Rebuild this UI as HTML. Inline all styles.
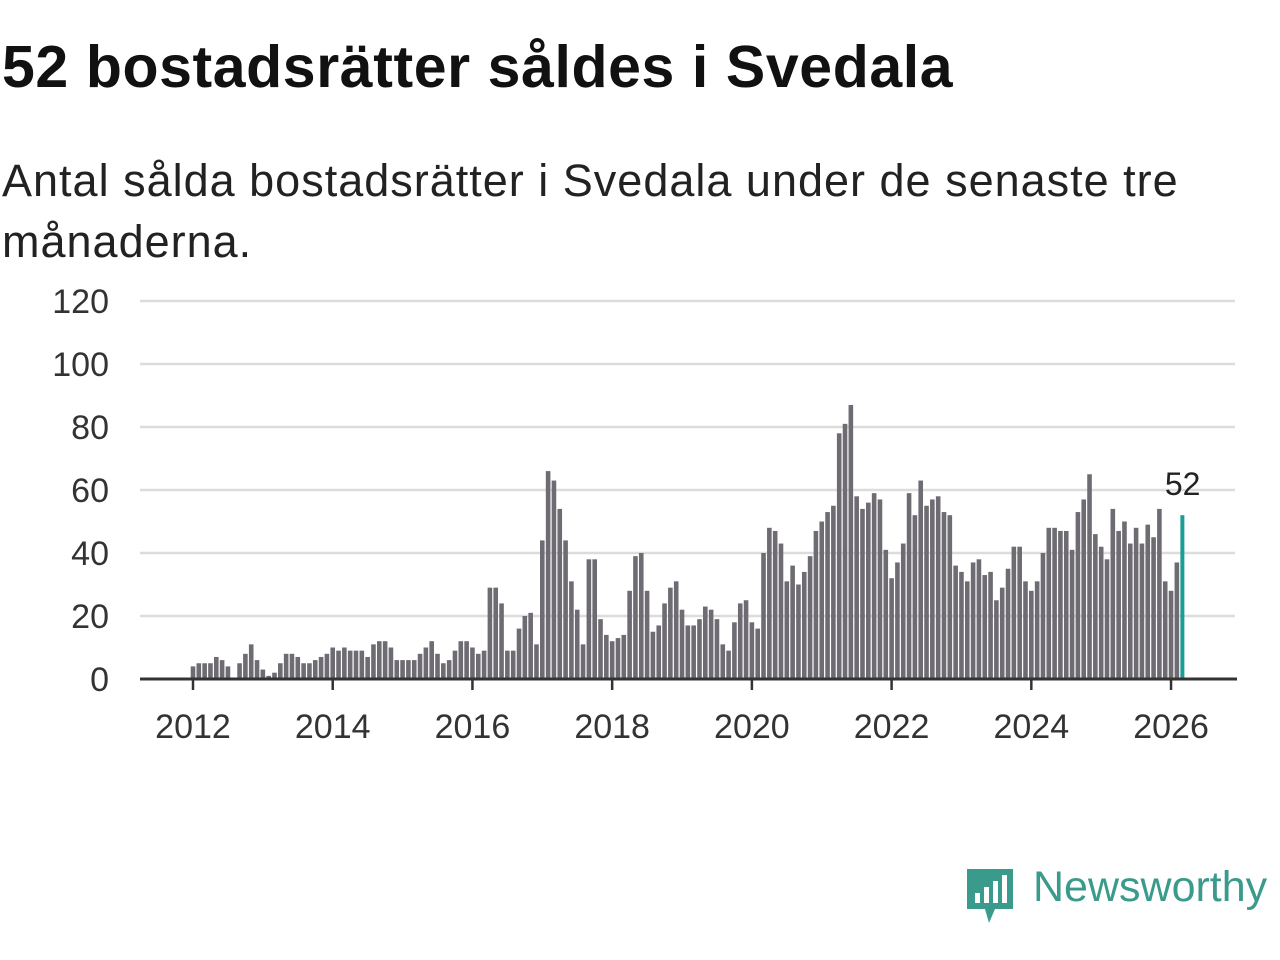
<!DOCTYPE html>
<html><head><meta charset="utf-8">
<style>
body{margin:0;width:1280px;height:960px;background:#fff;font-family:"Liberation Sans",sans-serif;overflow:hidden;position:relative}
#title{position:absolute;left:2px;top:33px;font-size:59px;font-weight:bold;color:#111;margin:0;letter-spacing:0.6px;white-space:nowrap}
#sub{position:absolute;left:2px;top:150px;font-size:45px;line-height:61px;color:#222;width:1240px;letter-spacing:1px}
svg{position:absolute;left:0;top:0}
</style></head><body>
<h1 id="title">52 bostadsrätter såldes i Svedala</h1>
<div id="sub">Antal sålda bostadsrätter i Svedala under de senaste tre månaderna.</div>
<svg id="chart" width="1280" height="960"></svg>
<div style="position:absolute;left:965px;top:865px;height:60px">
<svg width="52" height="62" style="position:absolute;left:0;top:0">
<path d="M2 4 H48 V44 H30 L24 58 L20 44 H2 Z" fill="#3a9a8c"/>
<rect x="10" y="28" width="5" height="10" fill="#fff"/><rect x="19" y="22" width="5" height="16" fill="#fff"/><rect x="28" y="16" width="5" height="22" fill="#fff"/><rect x="37" y="10" width="5" height="28" fill="#fff"/>
</svg>
<span style="position:absolute;left:68px;top:-2px;font-size:43px;color:#3a9a8c;white-space:nowrap">Newsworthy</span>
</div>
<script>
const years=[2012,2013,2014,2015,2016,2017,2018,2019,2020,2021,2022,2023,2024,2025,2026];
const yTicks=[0,20,40,60,80,100,120];
const values=[
4,5,5,5,7,6,4,0,5,8,11,6,
3,1,2,5,8,8,7,5,5,6,7,8,
10,9,10,9,9,9,7,11,12,12,10,6,
6,6,6,8,10,12,8,5,6,9,12,12,
10,8,9,29,29,24,9,9,16,20,21,11,
44,66,63,54,44,31,22,11,38,38,19,14,
12,13,14,28,39,40,28,15,17,24,29,31,
22,17,17,19,23,22,19,11,9,18,24,25,
18,16,40,48,47,43,31,36,30,34,39,47,
50,53,55,78,81,87,58,54,56,59,57,41,
32,37,43,59,52,63,55,57,58,53,52,36,
34,31,37,38,33,34,25,29,35,42,42,31,
28,31,40,48,48,47,47,41,53,57,65,46,
42,38,54,47,50,43,48,43,49,45,54,31,
28,37,52];
const NS="http://www.w3.org/2000/svg";
const svg=document.getElementById('chart');
const x0=193,perYear=69.86,yBase=679,perUnit=3.15;
const xm=i=>x0+i*perYear/12;
const yv=v=>yBase-v*perUnit;
function mk(t,a){const e=document.createElementNS(NS,t);for(const k in a)e.setAttribute(k,a[k]);svg.appendChild(e);return e;}
yTicks.forEach(t=>{
 if(t>0){const g=mk('line',{x1:140,x2:1235,y1:yv(t),y2:yv(t),stroke:'#dcdcdc','stroke-width':2.5});
 
 }
 const l=mk('text',{x:109,y:yv(t)+12,'text-anchor':'end','font-size':34,fill:'#333','font-family':'Liberation Sans, sans-serif'});
 l.textContent=t;
 
 
});
values.forEach((v,i)=>{
 const last=i===values.length-1;
 const b=mk('rect',{x:xm(i)-2.3,y:yv(v),width:last?4:4.6,height:v*perUnit,fill:last?'#1a9e94':'#6e6c72'});
 
 
});
const lv=values[values.length-1];
const lt=mk('text',{x:xm(values.length-1),y:yv(lv)-20,'text-anchor':'middle','font-size':32,fill:'#222','font-family':'Liberation Sans, sans-serif'});
lt.textContent=lv;


const ax=mk('line',{x1:140,x2:1237,y1:yBase,y2:yBase,stroke:'#333','stroke-width':3});


years.forEach((yr,k)=>{
 if(k%2)return;
 const x=x0+k*perYear;
 const t=mk('line',{x1:x,x2:x,y1:yBase,y2:yBase+11,stroke:'#333','stroke-width':2.5});
 
 
 const l=mk('text',{x:x,y:738,'text-anchor':'middle','font-size':34,fill:'#333','font-family':'Liberation Sans, sans-serif'});
 l.textContent=yr;
 
 
});
</script>
</body></html>
